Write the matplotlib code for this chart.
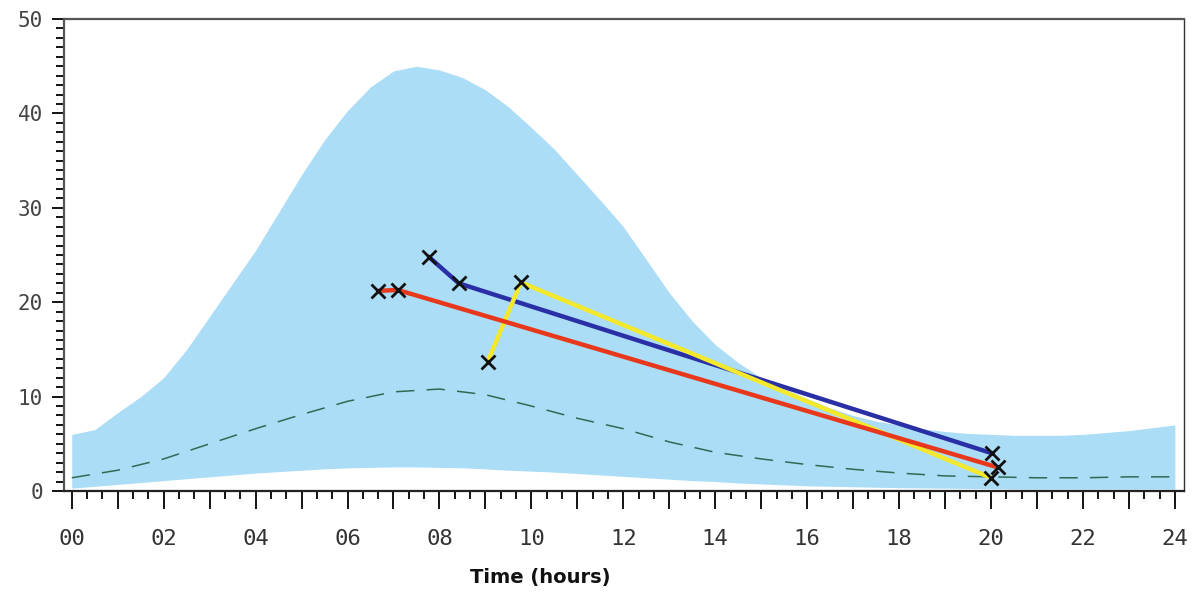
import numpy as np
import matplotlib
matplotlib.use("Agg")
import matplotlib.pyplot as plt
from matplotlib.ticker import MultipleLocator

# ------------------------------------------------
# data
band_t = [0, 0.5, 1, 1.5, 2, 2.5, 3, 3.5, 4, 4.5, 5, 5.5, 6, 6.5, 7, 7.5, 8,
          8.5, 9, 9.5, 10, 10.5, 11, 11.5, 12, 12.5, 13, 13.5, 14, 14.5, 15, 15.5, 16,
          16.5, 17, 17.5, 18, 18.5, 19, 19.5, 20, 20.5, 21, 21.5, 22, 22.5, 23, 23.5, 24]
band_upper = [6.0, 6.5, 8.3, 10.0, 12.0, 15.0, 18.5, 22.0, 25.5, 29.5, 33.5, 37.2, 40.3,
              42.8, 44.5, 45.0, 44.6, 43.8, 42.5, 40.7, 38.5, 36.2, 33.5, 30.8, 28.0,
              24.5, 21.0, 18.0, 15.5, 13.6, 12.0, 10.8, 9.8, 8.8, 8.0, 7.4, 7.0, 6.6,
              6.3, 6.1, 6.0, 5.9, 5.9, 5.9, 6.0, 6.2, 6.4, 6.7, 7.0]
band_lower = [0.3, 0.5, 0.7, 0.9, 1.1, 1.3, 1.5, 1.7, 1.9, 2.05, 2.2, 2.35, 2.45,
              2.5, 2.55, 2.55, 2.5, 2.45, 2.35, 2.2, 2.1, 2.0, 1.85, 1.7, 1.55,
              1.4, 1.25, 1.1, 1.0, 0.85, 0.75, 0.65, 0.55, 0.5, 0.45, 0.4, 0.35, 0.32,
              0.3, 0.27, 0.25, 0.22, 0.2, 0.2, 0.2, 0.2, 0.2, 0.2, 0.2]

hours = [0, 1, 2, 3, 4, 5, 6, 7, 8, 9, 10, 11, 12,
         13, 14, 15, 16, 17, 18, 19, 20, 21, 22, 23, 24]
median = [1.4, 2.2, 3.4, 5.0, 6.6, 8.1, 9.5, 10.5, 10.8, 10.2, 9.0, 7.7, 6.6,
          5.2, 4.1, 3.4, 2.8, 2.3, 1.9, 1.6, 1.5, 1.4, 1.4, 1.5, 1.5]

blue_t = [7.77, 8.42, 20.02]
blue_v = [24.8, 22.0, 4.0]
yellow_t = [9.05, 9.77, 20.0]
yellow_v = [13.7, 22.1, 1.4]
red_t = [6.66, 7.09, 20.15]
red_v = [21.2, 21.3, 2.5]

xtick_labels = ["%02d" % h for h in range(0, 25, 2)]

#------------------------------------------------
fig = plt.figure(figsize=(11.93, 5.92), dpi=100)
ax = fig.add_axes([0.0536, 0.1706, 0.9389, 0.7973])

ax.fill_between(band_t, band_lower, band_upper, color='#abddf6', lw=0, zorder=1)
ax.plot(hours, median, color='#2e6b55', lw=1.1, ls=(0, (12, 8)), zorder=2)

for t, v, c in [(blue_t, blue_v, '#2a2fa6'),
                (yellow_t, yellow_v, '#f4e82c'),
                (red_t, red_v, '#e8381c')]:
    ax.plot(t, v, color=c, lw=3.2, solid_capstyle='round', zorder=3)
    ax.plot(t, v, 'x', color='#111111', ms=10, mew=2, zorder=4)

ax.set_xlim(-0.17, 24.2)
ax.set_ylim(0, 50)

# ticks
ax.set_xticks(range(0, 25, 2), labels=xtick_labels, minor=False)
ax.set_xticks(range(0, 25), minor=True)
ax.yaxis.set_major_locator(MultipleLocator(10))
ax.yaxis.set_minor_locator(MultipleLocator(1))

ax.tick_params(axis='x', which='major', direction='out', length=13, width=1.3,
               pad=14, labelsize=16, labelcolor='#333333')
ax.tick_params(axis='x', which='minor', direction='out', length=13, width=1.3)
ax.tick_params(axis='y', which='major', direction='out', length=9, width=1.3,
               pad=6, labelsize=15, labelcolor='#444444')
ax.tick_params(axis='y', which='minor', direction='out', length=6, width=1.3)
for lab in ax.get_xticklabels() + ax.get_yticklabels():
    lab.set_family('DejaVu Sans Mono')

# 20-min ticks drawn as a secondary row (short)
sec = ax.secondary_xaxis('bottom')
sec.set_xticks([h + f for h in range(24) for f in (1/3, 2/3)])
sec.tick_params(direction='out', length=6, width=1.3, labelbottom=False)
sec.spines['bottom'].set_visible(False)

for s in ['top', 'left']:
    ax.spines[s].set_color('#555555')
    ax.spines[s].set_linewidth(1.6)
ax.spines['bottom'].set_color('#222222')
ax.spines['bottom'].set_linewidth(1.6)
ax.spines['right'].set_color('#333333')
ax.spines['right'].set_linewidth(1.0)

ax.set_xlabel('Time (hours)', fontsize=14, fontweight='bold', color='#111111',
              va='center')
ax.xaxis.set_label_coords(0.425, -0.184)

fig.savefig('out.png', dpi=100)
